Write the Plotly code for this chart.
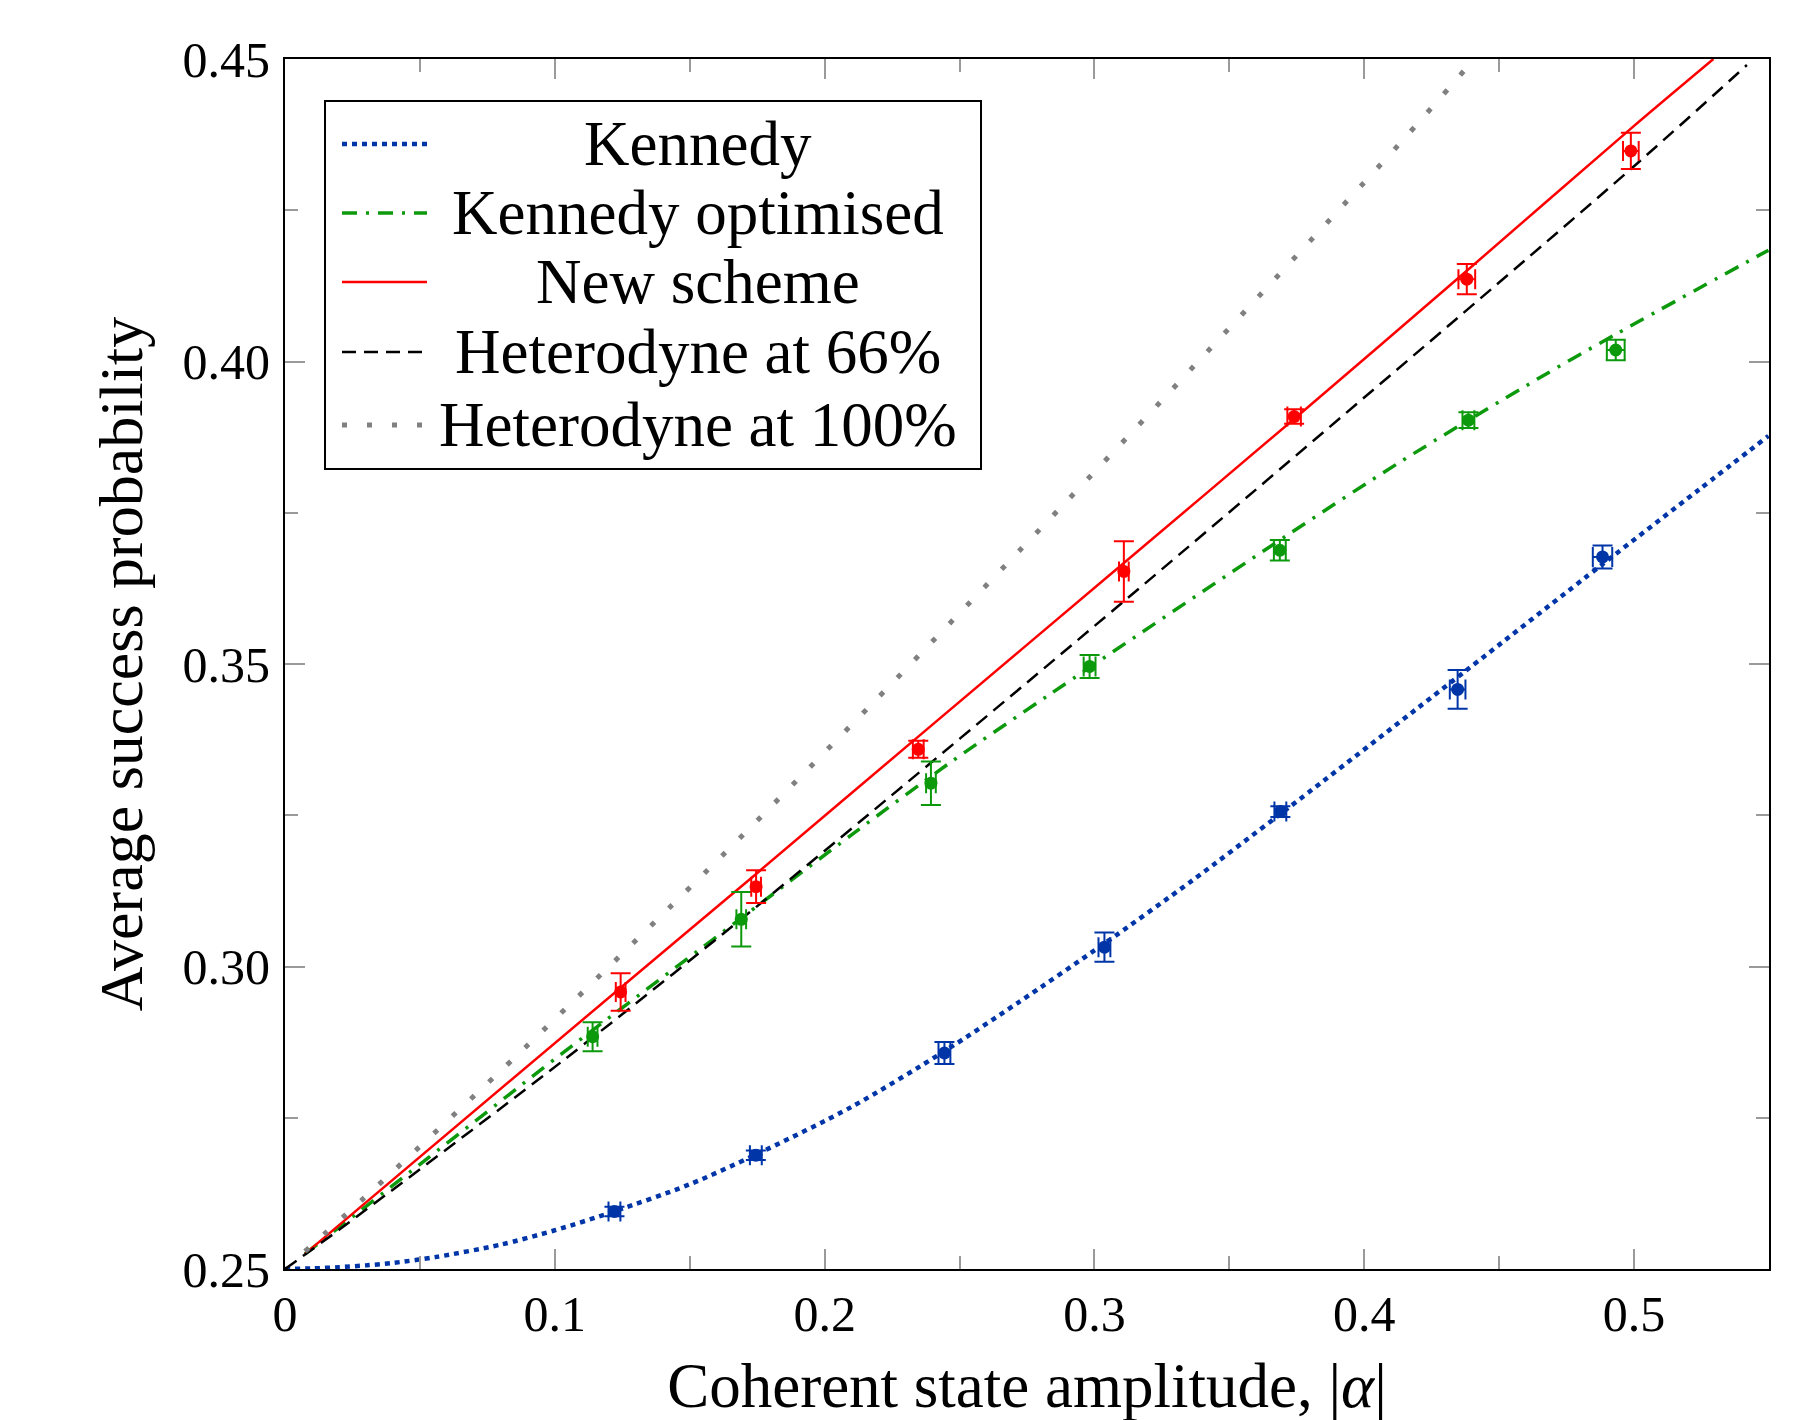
import plotly.graph_objects as go

# theory curves
kennedy_x = [0.0, 0.0105, 0.02, 0.03, 0.04, 0.0562, 0.0797, 0.1, 0.1219, 0.15, 0.174, 0.21,
             0.2444, 0.2716, 0.3037, 0.3362, 0.3689, 0.4371, 0.4883, 0.524, 0.5498]
kennedy_y = [0.25, 0.2501, 0.2503, 0.2506, 0.2510, 0.2520, 0.2540, 0.2564, 0.2595, 0.2640,
             0.2688, 0.2768, 0.2860, 0.2940, 0.3038, 0.3142, 0.3252, 0.3487, 0.3665,
             0.3788, 0.3877]

kopt_x = [0.0074, 0.05, 0.1032, 0.1691, 0.2107, 0.2465, 0.2835, 0.3715, 0.4133, 0.4638, 0.4932, 0.5498]
kopt_y = [0.2525, 0.2673, 0.2858, 0.3080, 0.3220, 0.3337, 0.3450, 0.3713, 0.3834, 0.3970, 0.4045, 0.4184]

new_x = [0.0074, 0.1244, 0.1746, 0.2347, 0.3109, 0.374, 0.438, 0.4988, 0.5294]
new_y = [0.2525, 0.2965, 0.3153, 0.3380, 0.3667, 0.3905, 0.4150, 0.4385, 0.45]

het66_x = [0.0, 0.0204, 0.1032, 0.1748, 0.311, 0.4985, 0.5418]
het66_y = [0.25, 0.2566, 0.2845, 0.3099, 0.3604, 0.4317, 0.449]

het100_x = [0.0074, 0.0346, 0.0883, 0.1604, 0.2184, 0.2882, 0.3261, 0.4133, 0.4388]
het100_y = [0.2529, 0.2639, 0.2863, 0.3176, 0.3438, 0.3762, 0.3941, 0.4361, 0.4490]

# experimental points with error bars
kennedy_pts_x = [0.1221, 0.1745, 0.2444, 0.3037, 0.3689, 0.4346, 0.4883]
kennedy_pts_y = [0.2595, 0.2688, 0.2857, 0.3032, 0.3256, 0.3458, 0.3677]
kennedy_pts_ey = [0.0008, 0.0008, 0.0018, 0.0024, 0.0009, 0.0032, 0.0019]
kennedy_pts_ex = [0.0022, 0.0022, 0.0022, 0.0022, 0.0022, 0.0029, 0.0036]

kopt_pts_x = [0.1140, 0.1691, 0.2394, 0.2982, 0.3687, 0.4386, 0.4932]
kopt_pts_y = [0.2884, 0.3078, 0.3303, 0.3496, 0.3688, 0.3903, 0.4019]
kopt_pts_ey = [0.0024, 0.0045, 0.0036, 0.0019, 0.0017, 0.0013, 0.0017]
kopt_pts_ex = [0.0018, 0.0018, 0.0018, 0.0022, 0.0022, 0.0022, 0.0033]

new_pts_x = [0.1244, 0.1746, 0.2347, 0.3109, 0.3740, 0.4380, 0.4988]
new_pts_y = [0.2958, 0.3132, 0.3359, 0.3653, 0.3909, 0.4136, 0.4348]
new_pts_ey = [0.0031, 0.0027, 0.0014, 0.0050, 0.0012, 0.0025, 0.0030]
new_pts_ex = [0.0018, 0.0018, 0.0020, 0.0018, 0.0025, 0.0031, 0.0029]

legend_names = ["Kennedy", "Kennedy optimised", "New scheme",
                "Heterodyne at 66%", "Heterodyne at 100%"]

BLUE = "#0035A8"
GREEN = "#0C990C"
RED = "#FF0000"
BLACK = "#000000"
GRAY = "#808080"
FONT = "Liberation Serif"

styles = [
    dict(color=BLUE, width=4.5, dash="5px,5px"),
    dict(color=GREEN, width=3.5, dash="15px,9px,3px,9px"),
    dict(color=RED, width=2.5, dash="solid"),
    dict(color=BLACK, width=2.5, dash="14px,8px"),
    dict(color=GRAY, width=5, dash="5px,20px"),
]

fig = go.Figure()

curves = [(kennedy_x, kennedy_y), (kopt_x, kopt_y), (new_x, new_y),
          (het66_x, het66_y), (het100_x, het100_y)]
for (cx, cy), st, name in zip(curves, styles, legend_names):
    fig.add_trace(go.Scatter(x=cx, y=cy, mode="lines",
                             line=dict(shape="spline", smoothing=0.8, **st),
                             name=name, showlegend=False, hoverinfo="skip"))

points = [(kennedy_pts_x, kennedy_pts_y, kennedy_pts_ex, kennedy_pts_ey, BLUE),
          (kopt_pts_x, kopt_pts_y, kopt_pts_ex, kopt_pts_ey, GREEN),
          (new_pts_x, new_pts_y, new_pts_ex, new_pts_ey, RED)]
for px_, py_, ex, ey, col in points:
    fig.add_trace(go.Scatter(
        x=px_, y=py_, mode="markers", showlegend=False,
        marker=dict(color=col, size=13),
        error_y=dict(type="data", array=ey, color=col, thickness=2, width=10),
        error_x=dict(type="data", array=ex, color=col, thickness=2, width=10),
    ))

# plot area on the page: x 285..1769, y 59..1269 (page body has an 8px margin)
def px_x(p):
    return (p - 285) / 1484


def px_y(p):
    return (1269 - p) / 1210


# hand-drawn legend with centred text
fig.add_shape(type="rect", xref="paper", yref="paper",
              x0=px_x(325), x1=px_x(981), y0=px_y(469), y1=px_y(101),
              line=dict(color="black", width=2), fillcolor="white", layer="above")
row_y = [144, 213, 282, 352, 425]
for ry, st, name in zip(row_y, styles, legend_names):
    fig.add_shape(type="line", xref="paper", yref="paper",
                  x0=px_x(342), x1=px_x(427), y0=px_y(ry), y1=px_y(ry),
                  line=st, layer="above")
    fig.add_annotation(xref="paper", yref="paper", x=px_x(698), y=px_y(ry),
                       text=name, showarrow=False, xanchor="center", yanchor="middle",
                       font=dict(family=FONT, size=63, color="black"))

axis_common = dict(
    showline=True, linecolor="black", linewidth=2, mirror="allticks",
    ticks="inside", ticklen=20, tickwidth=1.5, tickcolor="#9a9a9a",
    showgrid=False, zeroline=False,
    tickfont=dict(family=FONT, size=50, color="black"),
)

fig.update_layout(
    width=1802, height=1420,
    margin=dict(l=277, r=41, t=51, b=159),
    paper_bgcolor="white", plot_bgcolor="white",
    font=dict(family=FONT, color="black"),
    xaxis=dict(range=[0, 0.55], tick0=0, dtick=0.1, ticklabelstandoff=0,
               minor=dict(dtick=0.05, ticks="inside", ticklen=13, tickwidth=1.5,
                          tickcolor="#9a9a9a"),
               title=dict(text="Coherent state amplitude, |<i>α</i>|",
                          font=dict(family=FONT, size=63), standoff=22),
               **axis_common),
    yaxis=dict(range=[0.25, 0.45], tick0=0.25, dtick=0.05, tickformat=".2f",
               ticklabelstandoff=3,
               minor=dict(dtick=0.025, ticks="inside", ticklen=13, tickwidth=1.5,
                          tickcolor="#9a9a9a"),
               title=dict(text="Average success probability",
                          font=dict(family=FONT, size=62), standoff=20),
               **axis_common),
)

fig.write_html("out.html")
